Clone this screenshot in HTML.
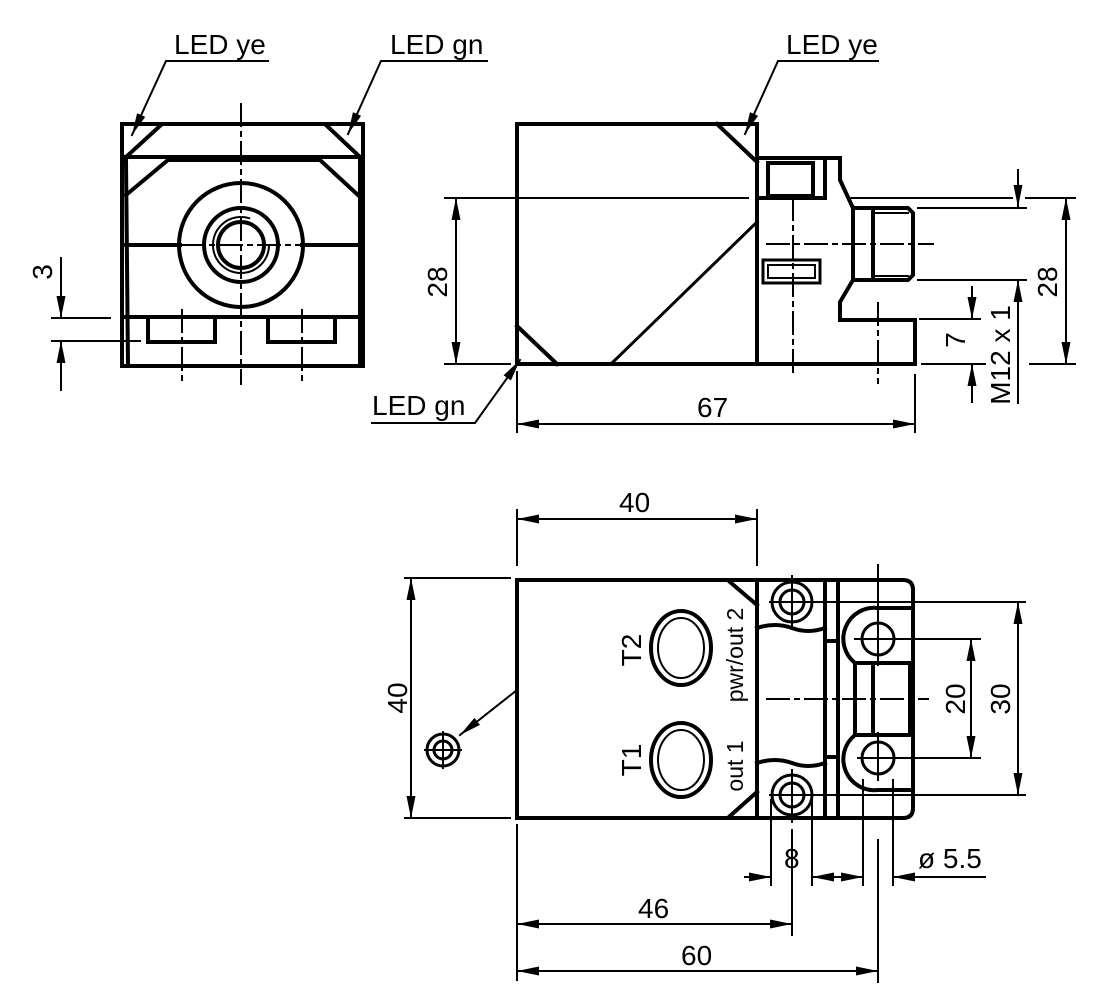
<!DOCTYPE html>
<html><head><meta charset="utf-8"><style>
html,body{margin:0;padding:0;background:#fff}
svg{display:block}
text{font-family:"Liberation Sans",sans-serif;font-size:28px;fill:#000}
</style></head><body>
<svg width="1098" height="1004" viewBox="0 0 1098 1004" xmlns="http://www.w3.org/2000/svg">
<defs>
<marker id="a" viewBox="0 0 22 9" refX="22" refY="4.5" markerWidth="22" markerHeight="9" markerUnits="userSpaceOnUse" orient="auto-start-reverse">
<path d="M0,0 L22,4.5 L0,9 Z" fill="#000"/></marker>
</defs>
<g fill="none" stroke="#000" stroke-linecap="square">
<!-- FRONT VIEW -->
<g stroke-width="4">
<path d="M122,124 H363 V366 H122 Z"/>
<path d="M161,125 L126,157 M326,125 L360,157"/>
<path d="M126,157 H360"/>
<path d="M126,195 L168,160 H320 L358,195"/>
<path d="M126,160 L128,366 M360,160 V366"/>
<path d="M126,245 H180 M302,245 H360"/>
<circle cx="241" cy="245" r="62"/>
<circle cx="241" cy="245" r="37"/>
<circle cx="241" cy="245" r="23"/>
<path d="M126,317 H360"/>
<path d="M148,317 V342 H215 V317 M268,317 V342 H335 V317"/>
</g>
<circle cx="241" cy="245" r="28" stroke-width="2" stroke-dasharray="140 36"/>
<g stroke-width="2" stroke-dasharray="22 6 4 6">
<path d="M241,104 V384 M182,310 V380 M302,310 V380 M182,245 H300"/>
</g>
<g stroke-width="2">
<path d="M52,318 H110 M52,341 H140"/>
<path d="M61,258 V318" marker-end="url(#a)"/>
<path d="M61,390 V341" marker-end="url(#a)"/>
<path d="M268,61 H166 L132,135" marker-end="url(#a)"/>
<path d="M487,61 H381 L348,134" marker-end="url(#a)"/>
<path d="M445,198 H748 M445,364 H510"/>
<path d="M456,198 V364" marker-start="url(#a)" marker-end="url(#a)"/>
<path d="M878,61 H778 L745,134" marker-end="url(#a)"/>
<path d="M372,423 H475 L520,360" marker-end="url(#a)"/>
<path d="M517,372 V432 M915,375 V432"/>
<path d="M517,424 H915" marker-start="url(#a)" marker-end="url(#a)"/>
<path d="M848,198 H1012 M1026,198 H1075 M918,208 H1026 M918,280 H1026 M920,319 H980 M922,364 H985 M1030,364 H1075"/>
<path d="M1066,198 V364" marker-start="url(#a)" marker-end="url(#a)"/>
<path d="M1018,170 V207" marker-end="url(#a)"/>
<path d="M1018,403 V280" marker-end="url(#a)"/>
<path d="M972,287 V319" marker-end="url(#a)"/>
<path d="M972,402 V364" marker-end="url(#a)"/>
</g>
<!-- SIDE VIEW body -->
<g stroke-width="4">
<path d="M517,124 H757 V364 H517 Z"/>
<path d="M717,124 L757,162 M517,326 L557,364"/>
<path d="M757,158 H840 V180 L853,208 V280 L840,302 V320 H915 V364 H757"/>
<path d="M825,158 V198 M757,198 H825"/>
<rect x="768" y="163" width="45" height="33"/>
<path d="M853,208 H908 L913,213 V275 L908,280 H853"/>
<path d="M873,211 V277"/>
</g>
<g stroke-width="3">
<path d="M611,364 L757,222"/>
<rect x="763" y="260" width="57" height="23"/>
<rect x="768" y="265" width="47" height="13" stroke-width="2"/>
<path d="M873,213 H908 M873,276 H908" stroke-width="2"/>
</g>
<g stroke-width="2" stroke-dasharray="22 6 4 6">
<path d="M793,198 V372 M767,244 H933 M878,303 V383"/>
</g>
<!-- BOTTOM VIEW -->
<g stroke-width="2">
<path d="M517,510 V565 M757,510 V565"/>
<path d="M517,519 H757" marker-start="url(#a)" marker-end="url(#a)"/>
<path d="M405,578 H510 M405,818 H510"/>
<path d="M411,578 V818" marker-start="url(#a)" marker-end="url(#a)"/>
<path d="M460,735 L517,690" marker-start="url(#a)"/>
<path d="M770,602 H1025 M855,639 H980 M858,758 H980 M770,795 H1025"/>
<path d="M971,639 V758" marker-start="url(#a)" marker-end="url(#a)"/>
<path d="M1018,602 V795" marker-start="url(#a)" marker-end="url(#a)"/>
<path d="M517,825 V980 M771,800 V885 M812,800 V885 M863,780 V885 M893,780 V885 M792,830 V935 M878,840 V982"/>
<path d="M745,877 H771" marker-end="url(#a)"/>
<path d="M838,877 H812" marker-end="url(#a)"/>
<path d="M840,877 H863" marker-end="url(#a)"/>
<path d="M985,877 H893" marker-end="url(#a)"/>
<path d="M517,924 H792" marker-start="url(#a)" marker-end="url(#a)"/>
<path d="M517,971 H878" marker-start="url(#a)" marker-end="url(#a)"/>
</g>
<g stroke-width="4">
<path d="M517,580 H757 V818 H517 Z"/>
<path d="M757,580 H903 Q913,580 913,590 V808 Q913,818 903,818 H757"/>
<path d="M825,580 V818 M838,580 V818"/>
<path d="M757,628 Q775,622 792,628 Q808,634 825,628 M757,763 Q775,757 792,763 Q808,769 825,763"/>
<path d="M825,641 H838 M825,757 H838"/>
<path d="M910,608 H878 A31,31 0 0 0 855,663 H910 M910,790 H878 A31,31 0 0 1 855,735 H910"/>
<path d="M855,663 V735 M873,665 V733 M910,663 V735"/>
<path d="M730,582 L757,605 M730,816 L757,792"/>
<ellipse cx="681" cy="648" rx="30" ry="37"/>
<ellipse cx="681" cy="760" rx="30" ry="37"/>
</g>
<g stroke-width="3">
<circle cx="792" cy="602" r="20"/><circle cx="792" cy="602" r="12"/>
<circle cx="792" cy="795" r="20"/><circle cx="792" cy="795" r="12"/>
<circle cx="878" cy="639" r="16"/><circle cx="878" cy="758" r="16"/>
<ellipse cx="681" cy="648" rx="23" ry="30" stroke-width="2"/>
<ellipse cx="681" cy="760" rx="23" ry="30" stroke-width="2"/>
<circle cx="443" cy="750" r="16"/><circle cx="443" cy="750" r="9"/>
</g>
<path d="M425,750 H461 M443,732 V768 M792,576 V628 M792,770 V822 M878,565 V665 M878,733 V780" stroke-width="2"/>
<path d="M767,699 H928" stroke-width="2" stroke-dasharray="22 6 4 6"/>
</g>
<g>
<text x="174" y="54">LED ye</text>
<text x="390" y="54">LED gn</text>
<text x="786" y="54">LED ye</text>
<text x="372" y="415">LED gn</text>
<text x="697" y="417">67</text>
<text x="619" y="512">40</text>
<text x="638" y="918">46</text>
<text x="681" y="965">60</text>
<text x="784" y="868">8</text>
<text x="918" y="868">ø 5.5</text>
<text transform="translate(52,272) rotate(-90)" text-anchor="middle">3</text>
<text transform="translate(447,282) rotate(-90)" text-anchor="middle">28</text>
<text transform="translate(1057,282) rotate(-90)" text-anchor="middle">28</text>
<text transform="translate(965,340) rotate(-90)" text-anchor="middle">7</text>
<text transform="translate(1010,355) rotate(-90)" text-anchor="middle">M12 x 1</text>
<text transform="translate(407,698) rotate(-90)" text-anchor="middle">40</text>
<text transform="translate(965,699) rotate(-90)" text-anchor="middle">20</text>
<text transform="translate(1010,699) rotate(-90)" text-anchor="middle">30</text>
<text transform="translate(641,650) rotate(-90)" text-anchor="middle">T2</text>
<text transform="translate(641,760) rotate(-90)" text-anchor="middle">T1</text>
<text transform="translate(743,655) rotate(-90)" text-anchor="middle" style="font-size:23px">pwr/out 2</text>
<text transform="translate(743,766) rotate(-90)" text-anchor="middle" style="font-size:23px">out 1</text>
</g>
</svg>
</body></html>
